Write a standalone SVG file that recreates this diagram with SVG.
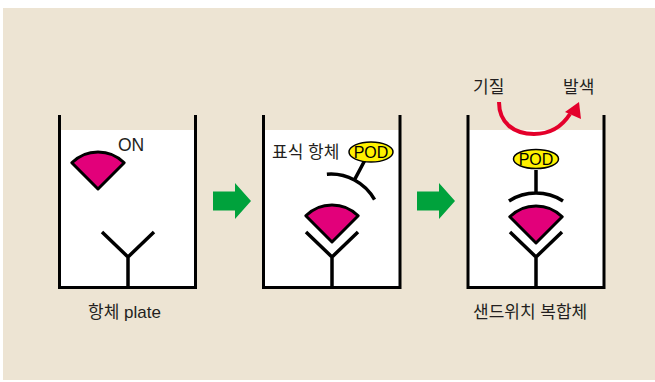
<svg xmlns="http://www.w3.org/2000/svg" width="655" height="382" viewBox="0 0 655 382">
  <defs>
    <style>
      .wall { fill: none; stroke: #000; stroke-width: 3; stroke-linejoin: miter; }
      .liquid { fill: #fff; }
      .ab { fill: none; stroke: #000; stroke-width: 3.5; stroke-linecap: butt; stroke-linejoin: miter; }
      .antigen { fill: #e2007a; stroke: #000; stroke-width: 3; stroke-linejoin: round; }
      .pod { fill: #fff100; stroke: #000; stroke-width: 1.5; }
      .podtxt { font-family: "Liberation Sans", Arial, sans-serif; font-size: 16px; fill: #000; text-anchor: middle; }
      .lbl { font-family: "Liberation Sans", "Noto Sans CJK KR", sans-serif; font-size: 17px; fill: #231f20; }
      .arrow { fill: #00a23c; }
      .react { fill: none; stroke: #e4002b; stroke-width: 4; }
    </style>
    <!-- capture antibody (Y shape) with its stem down to the plate bottom -->
    <path id="yab" d="M-26,-25 L0,0 L26,-25 M0,0 V31"/>
    <!-- antigen wedge, apex at origin -->
    <path id="wedge" d="M0,0 L-26.2,-26.2 A37,37 0 0 1 26.2,-26.2 Z"/>
    <!-- labelled antibody: arc around origin plus stem toward the enzyme -->
    <path id="lab" d="M-27,-42 A50,50 0 0 1 27,-42 M0,-50 V-73"/>
    <!-- green step arrow, tip at origin -->
    <polygon id="step" points="-38,-9.5 -16,-9.5 -16,-18 0,0 -16,18 -16,9.5 -38,9.5"/>
  </defs>

  <!-- background panel -->
  <rect x="3" y="8" width="652" height="372" fill="#ede4d3"/>

  <!-- plate 1: capture antibody and free antigen -->
  <g id="plate1">
    <rect class="liquid" x="60" y="130" width="135" height="157"/>
    <path class="wall" d="M59.5,115 V287.5 H195.5 V115"/>
    <use href="#wedge" class="antigen" x="98" y="189"/>
    <use href="#yab" class="ab" x="128" y="257"/>
    <text class="lbl" x="118" y="151" style="font-size:17.5px">ON</text>
    <text class="lbl" x="88" y="318">항체 plate</text>
  </g>

  <!-- plate 2: bound antigen and incoming labelled antibody -->
  <g id="plate2">
    <rect class="liquid" x="264" y="130" width="136" height="157"/>
    <path class="wall" d="M263.5,115 V287.5 H400 V115"/>
    <use href="#wedge" class="antigen" x="332" y="242"/>
    <use href="#yab" class="ab" x="332" y="257"/>
    <use href="#lab" class="ab" transform="translate(331,224) rotate(28)"/>
    <ellipse class="pod" cx="371" cy="152" rx="22" ry="10"/>
    <text class="podtxt" x="371" y="157.5">POD</text>
    <text class="lbl" x="272" y="158">표식 항체</text>
  </g>

  <!-- plate 3: sandwich complex and colour reaction -->
  <g id="plate3">
    <rect class="liquid" x="468" y="130" width="136" height="157"/>
    <path class="wall" d="M468,115 V287.5 H604 V115"/>
    <use href="#wedge" class="antigen" x="536" y="243"/>
    <use href="#yab" class="ab" x="536" y="257"/>
    <use href="#lab" class="ab" x="536" y="243"/>
    <ellipse class="pod" cx="536" cy="159" rx="22.5" ry="9.5"/>
    <text class="podtxt" x="536" y="164.5">POD</text>
    <text class="lbl" x="473" y="318">샌드위치 복합체</text>
  </g>

  <!-- connectors: step arrows and substrate reaction -->
  <g id="connectors">
    <use href="#step" class="arrow" x="251" y="201"/>
    <use href="#step" class="arrow" x="455" y="201"/>
    <path class="react" d="M499,102 C499,123 514,134 534,134 C551,134 563,125 570,114"/>
    <polygon fill="#e4002b" points="579,102 565,112 581,119"/>
    <text class="lbl" x="473" y="93">기질</text>
    <text class="lbl" x="563" y="93">발색</text>
  </g>
</svg>
